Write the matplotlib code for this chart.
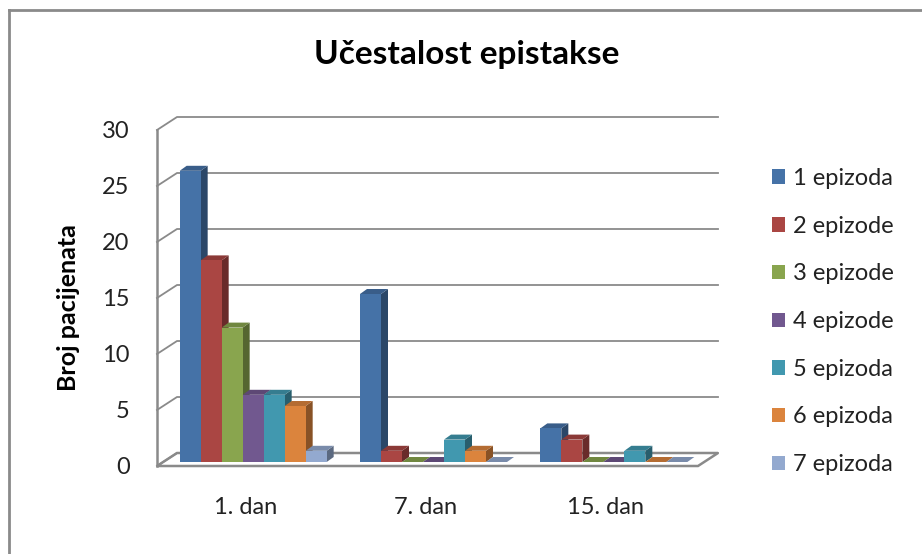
import numpy as np
import matplotlib.pyplot as plt
import matplotlib.colors as mcolors
from matplotlib.patches import Polygon, Patch
from matplotlib.lines import Line2D
from matplotlib.transforms import ScaledTranslation

plt.rcParams['font.family'] = ['Lato', 'DejaVu Sans']

# ==========================
# DATA
# ==========================
days = ["1. dan", "7. dan", "15. dan"]
series_labels = ["1 epizoda", "2 epizode", "3 epizode", "4 epizode",
                 "5 epizoda", "6 epizoda", "7 epizoda"]
ep1 = [26, 15, 3]
ep2 = [18, 1, 2]
ep3 = [12, 0, 0]
ep4 = [6, 0, 0]
ep5 = [6, 2, 1]
ep6 = [5, 1, 0]
ep7 = [1, 0, 0]
series = [ep1, ep2, ep3, ep4, ep5, ep6, ep7]
colors = ["#4572A7", "#AA4643", "#89A54E", "#71588F",
          "#4198AF", "#DB843D", "#93A9CF"]
yticks = [0, 5, 10, 15, 20, 25, 30]

# ==========================
# FIGURE / AXES (pixel layout)
# ==========================
W, H, DPI = 922, 554, 100
fig = plt.figure(figsize=(W / DPI, H / DPI), dpi=DPI)

L, R, B0, T30 = 163, 704, 462, 126
ax = fig.add_axes([L / W, 1 - B0 / H, (R - L) / W, (B0 - T30) / H])
ax.set_xlim(-0.5, 2.5)
ax.set_ylim(0, 30)
for s in ax.spines.values():
    s.set_visible(False)

# data units per pixel
px_x = 3.0 / (R - L)
px_y = 30.0 / (B0 - T30)


def shift(x, y, dx, dy):
    return (x + dx * px_x, y + dy * px_y)


def shade(c, f):
    r, g, b = mcolors.to_rgb(c)
    return (r * f, g * f, b * f)


FRONT = (-6, -4)
BACK = (14, 9)
grid_col = "#8a8a8a"

# floor
floor = Polygon([shift(-0.5, 0, *FRONT), shift(2.5, 0, *FRONT),
                 shift(2.5, 0, *BACK), shift(-0.5, 0, *BACK)],
                closed=True, facecolor="white", edgecolor=grid_col,
                linewidth=1.8, clip_on=False, zorder=1)
ax.add_patch(floor)

# back wall gridlines + left wall diagonals
for t in yticks:
    xa, ya = shift(-0.5, t, *BACK)
    xb, yb = shift(2.5, t, *BACK)
    xf, yf = shift(-0.5, t, *FRONT)
    ax.plot([xf, xa, xb], [yf, ya, yb], color=grid_col, lw=1.3,
            clip_on=False, zorder=2)

# left wall front edge
x0f, y0f = shift(-0.5, 0, *FRONT)
x1f, y1f = shift(-0.5, 30, *FRONT)
ax.plot([x0f, x1f], [y0f, y1f], color=grid_col, lw=1.8, clip_on=False, zorder=2)

# ==========================
# BARS (front + pseudo 3D top/side)
# ==========================
w = 21 * px_x
ddx = 7 * px_x
ddy = 5 * px_y
centers = np.arange(len(days))

for i, vals in enumerate(series):
    c = colors[i]
    x = centers + (i - 3) * w
    ax.bar(x, vals, width=w, color=c, linewidth=0, zorder=10 + 3 * i + 2)
    for xc, v in zip(x, vals):
        xl = xc - w / 2
        xr = xc + w / 2
        top = Polygon([(xl, v), (xr, v), (xr + ddx, v + ddy), (xl + ddx, v + ddy)],
                      closed=True, facecolor=shade(c, 0.82), edgecolor="none",
                      clip_on=False, zorder=10 + 3 * i + 1)
        side = Polygon([(xr, 0), (xr, v), (xr + ddx, v + ddy), (xr + ddx, ddy)],
                       closed=True, facecolor=shade(c, 0.62), edgecolor="none",
                       clip_on=False, zorder=10 + 3 * i + 1)
        ax.add_patch(side)
        ax.add_patch(top)

# ==========================
# TICKS / LABELS
# ==========================
ax.set_yticks(yticks)
ax.set_yticklabels([str(t) for t in yticks])
ax.tick_params(axis="y", length=0, pad=24, labelsize=17, labelcolor="#222222")
for lab in ax.get_yticklabels():
    lab.set_transform(lab.get_transform() +
                      ScaledTranslation(0, -3 / DPI, fig.dpi_scale_trans))

ax.set_xticks(centers)
ax.set_xticklabels(days)
ax.tick_params(axis="x", length=0, pad=25, labelsize=17, labelcolor="#222222")
for lab in ax.get_xticklabels():
    lab.set_transform(lab.get_transform() +
                      ScaledTranslation(-8 / DPI, 0, fig.dpi_scale_trans))

fig.text(68 / W, 1 - 308 / H, "Broj pacijenata", rotation=90,
         ha="center", va="center", fontsize=18, fontweight="bold", color="black")

fig.text(467 / W, 1 - 64 / H, "Učestalost epistakse", ha="center",
         va="baseline", fontsize=24, fontweight="bold", color="black")

# ==========================
# LEGEND
# ==========================
handles = [Patch(facecolor=c, edgecolor="none") for c in colors]
fig.legend(handles, series_labels, loc="upper left",
           bbox_to_anchor=(772 / W, 1 - 168 / H), frameon=False,
           fontsize=17, borderpad=0, borderaxespad=0,
           handlelength=0.56, handleheight=0.56, handletextpad=0.34,
           labelspacing=1.13, labelcolor="#222222")

# outer border
fig.add_artist(Line2D([9 / W, 9 / W], [0, 1 - 10 / H], transform=fig.transFigure,
                      color="#8a8a8a", lw=2))
fig.add_artist(Line2D([9 / W, 1], [1 - 10 / H, 1 - 10 / H], transform=fig.transFigure,
                      color="#8a8a8a", lw=2))

fig.savefig("out.png", dpi=DPI)
